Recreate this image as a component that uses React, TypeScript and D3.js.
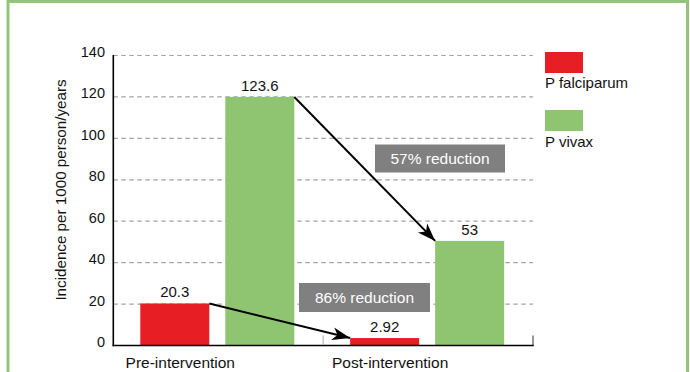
import React from "react";
import * as d3 from "d3";

const categories = ["Pre-intervention", "Post-intervention"];
const seriesNames = ["P falciparum", "P vivax"];
const falciparumValues = [20.3, 3.6];
const vivaxValues = [120, 50.5];
const falciparumLabels = ["20.3", "2.92"];
const vivaxLabels = ["123.6", "53"];
const yTicks = [0, 20, 40, 60, 80, 100, 120, 140];
const reductionLabels = ["86% reduction", "57% reduction"];
const colors = ["#e81e25", "#8fc470"];

const W = 690;
const H = 372;
const FONT = "'Liberation Sans', Arial, Helvetica, sans-serif";

export default function App() {
  const x0 = 113.3;
  const x1 = 533;
  const y = d3.scaleLinear().domain([0, 140]).range([345.5, 55.5]);
  const band = d3.scaleBand<string>().domain(categories).range([x0, x1]);
  const barW = 69;
  const offs = [27, 112];
  const series = [falciparumValues, vivaxValues];
  const labels = [falciparumLabels, vivaxLabels];

  const bx = (ci: number, si: number) => (band(categories[ci]) as number) + offs[si];

  const arrows = [0, 1].map((si) => ({
    x1: bx(0, si) + barW,
    y1: y(series[si][0]),
    x2: bx(1, si),
    y2: y(series[si][1]),
  }));

  const boxes = [
    { x: 299, y: 283, w: 131, h: 29 },
    { x: 375, y: 144.5, w: 130, h: 28 },
  ];

  return (
    <svg width={W} height={H} style={{ position: "absolute", left: 0, top: 0 }} fontFamily={FONT}>
      <defs>
        <marker id="ah" markerUnits="userSpaceOnUse" viewBox="-20 -8 22 16" refX="0" refY="0" markerWidth="22" markerHeight="16" orient="auto">
          <path d="M0,0 L-18,-6.5 L-13,0 L-18,6.5 Z" fill="#000" />
        </marker>
      </defs>
      <rect x={0} y={0} width={W} height={H} fill="#fff" />
      <rect x={8} y={1.5} width={679.5} height={H + 10} fill="none" stroke="#92c57a" strokeWidth={3} />

      {yTicks.filter((t) => t > 0).map((t) => (
        <line key={t} x1={x0} x2={x1} y1={y(t)} y2={y(t)} stroke="#a3a3a3" strokeWidth={1.2} strokeDasharray="4.5,3.5" />
      ))}

      {yTicks.map((t) => (
        <text key={t} x={105} y={y(t) + 1.5} textAnchor="end" fontSize={14.5} fill="#111">
          {t}
        </text>
      ))}

      <text transform={`translate(66,190) rotate(-90)`} textAnchor="middle" fontSize={15.2} fill="#111">
        Incidence per 1000 person/years
      </text>

      {categories.map((c, ci) =>
        series.map((vals, si) => (
          <rect key={c + si} x={bx(ci, si)} y={y(vals[ci])} width={barW} height={y(0) - y(vals[ci])} fill={colors[si]} />
        ))
      )}

      {categories.map((c, ci) =>
        series.map((vals, si) => (
          <text key={"l" + c + si} x={bx(ci, si) + barW / 2} y={y(vals[ci]) - 6} textAnchor="middle" fontSize={15} fill="#111">
            {labels[si][ci]}
          </text>
        ))
      )}

      <line x1={x0} x2={x0} y1={55} y2={346.3} stroke="#000" strokeWidth={1.6} />
      <line x1={x0 - 0.8} x2={x1 + 0.8} y1={345.5} y2={345.5} stroke="#000" strokeWidth={1.6} />
      <line x1={band(categories[1]) as number} x2={band(categories[1]) as number} y1={335.5} y2={345} stroke="#aaa" strokeWidth={1} />
      <line x1={x1} x2={x1} y1={335.5} y2={345} stroke="#555" strokeWidth={1.2} />

      {categories.map((c) => (
        <text key={c} x={(band(c) as number) + 67} y={368} textAnchor="middle" fontSize={15.5} fill="#111">
          {c}
        </text>
      ))}

      {boxes.map((b, i) => (
        <g key={i}>
          <rect x={b.x} y={b.y} width={b.w} height={b.h} fill="#808080" />
          <text x={b.x + b.w / 2} y={b.y + b.h / 2 + 5.5} textAnchor="middle" fontSize={15.5} fill="#fff">
            {reductionLabels[i]}
          </text>
        </g>
      ))}

      {arrows.map((a, i) => (
        <line key={i} x1={a.x1} y1={a.y1} x2={a.x2} y2={a.y2} stroke="#000" strokeWidth={2} markerEnd="url(#ah)" />
      ))}

      {seriesNames.map((s, i) => (
        <g key={s}>
          <rect x={545} y={52 + i * 58} width={38} height={21} fill={colors[i]} />
          <text x={545} y={88 + i * 59} fontSize={15} fill="#111">
            {s}
          </text>
        </g>
      ))}
    </svg>
  );
}
